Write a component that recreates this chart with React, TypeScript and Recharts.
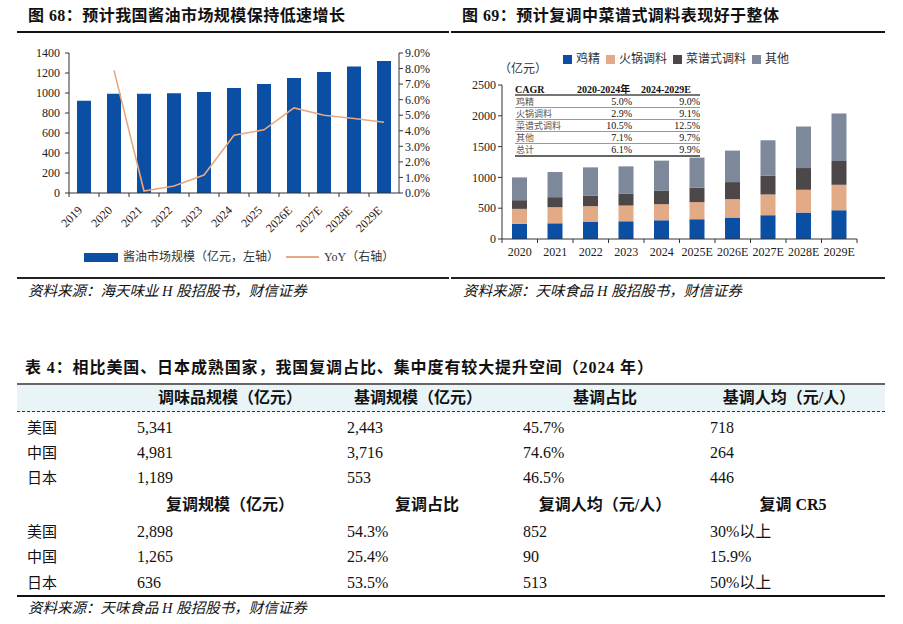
import React from "react";
import { ComposedChart, BarChart, Bar, Line, XAxis, YAxis } from "recharts";

const SERIF = "'Liberation Serif', 'Noto Sans CJK SC', serif";

// 图 68：酱油市场规模（亿元）与同比
const soyYears = ["2019", "2020", "2021", "2022", "2023", "2024", "2025", "2026E", "2027E", "2028E", "2029E"];
const soySize = [922, 992, 993, 998, 1011, 1049, 1091, 1149, 1209, 1266, 1319];
const soyYoy = [null, 7.88, 0.13, 0.45, 1.16, 3.71, 4.06, 5.47, 5.0, 4.79, 4.55];
const soyLeftTicks = [0, 200, 400, 600, 800, 1000, 1200, 1400];
const soyRightTicks = [0, 1, 2, 3, 4, 5, 6, 7, 8, 9];

// 图 69：复调细分品类规模（亿元）
const sauceYears = ["2020", "2021", "2022", "2023", "2024", "2025E", "2026E", "2027E", "2028E", "2029E"];
const chickenEssence = [245, 255, 283, 288, 304, 321, 348, 386, 429, 467];
const hotpotBase = [244, 261, 250, 255, 261, 277, 299, 337, 370, 413];
const recipeSeasoning = [141, 163, 168, 196, 223, 234, 277, 304, 353, 386];
const otherSeasoning = [370, 408, 462, 440, 484, 489, 511, 576, 674, 772];
const sauceTicks = [0, 500, 1000, 1500, 2000, 2500];

const cagrLabels = ["鸡精", "火锅调料", "菜谱式调料", "其他", "总计"];
const cagr2020to2024 = ["5.0%", "2.9%", "10.5%", "7.1%", "6.1%"];
const cagr2024to2029 = ["9.0%", "9.1%", "12.5%", "9.7%", "9.9%"];

// 表 4
const countries = ["美国", "中国", "日本"];
const baseHeaders = ["调味品规模（亿元）", "基调规模（亿元）", "基调占比", "基调人均（元/人）"];
const baseValues = [
  ["5,341", "2,443", "45.7%", "718"],
  ["4,981", "3,716", "74.6%", "264"],
  ["1,189", "553", "46.5%", "446"],
];
const compoundHeaders = ["复调规模（亿元）", "复调占比", "复调人均（元/人）", "复调 CR5"];
const compoundValues = [
  ["2,898", "54.3%", "852", "30%以上"],
  ["1,265", "25.4%", "90", "15.9%"],
  ["636", "53.5%", "513", "50%以上"],
];

const soyData = soyYears.map((year, i) => ({ year, size: soySize[i], yoy: soyYoy[i] }));
const sauceData = sauceYears.map((year, i) => ({
  year,
  chicken: chickenEssence[i],
  hotpot: hotpotBase[i],
  recipe: recipeSeasoning[i],
  other: otherSeasoning[i],
}));

const BLUE = "#0b4fa4";
const PEACH = "#e3aa86";
const DARK = "#4c4748";
const SLATE = "#7d899b";
const AXIS = "#333";

// 斜排年份标签，刻度线画在类目分界处
function RotatedTick(props: any) {
  const { x, y, payload } = props;
  const half = payload?.offset ?? 15;
  return (
    <g>
      <line x1={x - half} x2={x - half} y1={y} y2={y + 4} stroke={AXIS} />
      <text
        x={x - 3}
        y={y + 16}
        transform={`rotate(-45 ${x - 3} ${y + 16})`}
        textAnchor="end"
        dominantBaseline="middle"
        fontSize={12}
        fontFamily={SERIF}
        fill="#222"
      >
        {payload.value}
      </text>
    </g>
  );
}

function FlatTick(props: any) {
  const { x, y, payload, index } = props;
  const half = payload?.offset ?? 17.75;
  return (
    <g>
      <line x1={x - half} x2={x - half} y1={y} y2={y + 4} stroke={AXIS} />
      {index === sauceYears.length - 1 && (
        <line x1={x + half} x2={x + half} y1={y} y2={y + 4} stroke={AXIS} />
      )}
      <text x={x} y={y + 14} textAnchor="middle" dominantBaseline="middle" fontSize={12} fontFamily={SERIF} fill="#222">
        {payload.value}
      </text>
    </g>
  );
}

const abs = (left: number, top: number, extra: React.CSSProperties = {}): React.CSSProperties => ({
  position: "absolute",
  left,
  top,
  whiteSpace: "nowrap",
  lineHeight: 1,
  transform: "translateY(-50%)",
  ...extra,
});

const hline = (left: number, right: number, top: number, h: number, color: string): React.CSSProperties => ({
  position: "absolute",
  left,
  top: top - h / 2,
  width: right - left,
  height: h,
  background: color,
});

function Swatch({ color }: { color: string }) {
  return <span style={{ display: "inline-block", width: 9, height: 9, background: color, marginRight: 4 }} />;
}

const baseCols = [137, 347, 523, 710];
const baseHeaderCenters = [230, 418, 605, 789];
const compoundHeaderCenters = [230, 427, 605, 793];
const baseRowY = [428, 452.5, 478];
const compoundRowY = [532, 557, 583];

export default function App() {
  const tick = { fontSize: 12, fill: "#222", fontFamily: SERIF };
  return (
    <div style={{ position: "absolute", left: 0, top: 0, width: 903, height: 624, background: "#fff", fontFamily: SERIF, color: "#111" }}>
      {/* 图 68 */}
      <div style={abs(28, 16, { fontSize: 16, fontWeight: 700, letterSpacing: 0.45 })}>图 68：预计我国酱油市场规模保持低速增长</div>
      <div style={hline(17, 449, 31.5, 2, "#111")} />
      <div style={{ position: "absolute", left: 0, top: 0 }}>
        <ComposedChart width={450} height={280} data={soyData} margin={{ top: 53, right: 1, bottom: 47, left: 19 }} barSize={14}>
          <XAxis dataKey="year" height={40} interval={0} tickSize={0} tickMargin={0} tickLine={false} axisLine={{ stroke: AXIS }} tick={<RotatedTick />} />
          <YAxis yAxisId="left" width={50} domain={[0, 1400]} ticks={soyLeftTicks} interval={0} tickSize={4} tickMargin={5} tick={tick} axisLine={{ stroke: AXIS }} tickLine={{ stroke: AXIS }} />
          <YAxis
            yAxisId="right"
            orientation="right"
            width={50}
            domain={[0, 9]}
            ticks={soyRightTicks}
            interval={0}
            tickSize={4}
            tickMargin={2}
            tick={{ ...tick, textAnchor: "start" }}
            tickFormatter={(v: number) => `${v.toFixed(1)}%`}
            axisLine={{ stroke: AXIS }}
            tickLine={{ stroke: AXIS }}
          />
          <Bar yAxisId="left" dataKey="size" fill={BLUE} isAnimationActive={false} />
          <Line yAxisId="right" dataKey="yoy" stroke="#e7a882" strokeWidth={1.6} dot={false} type="linear" isAnimationActive={false} />
        </ComposedChart>
      </div>
      <div style={abs(84, 257, { display: "flex", alignItems: "center", fontSize: 12, color: "#333" })}>
        <span style={{ display: "inline-block", width: 34, height: 9, background: BLUE, marginRight: 5 }} />
        <span>酱油市场规模（亿元，左轴）</span>
        <span style={{ display: "inline-block", width: 33, height: 2, background: "#e7a882", margin: "0 5px 0 7px" }} />
        <span>YoY（右轴）</span>
      </div>
      <div style={hline(17, 449, 278, 1.5, "#222")} />
      <div style={abs(28, 291, { fontSize: 14.5, fontStyle: "italic" })}>资料来源：海天味业 H 股招股书，财信证券</div>

      {/* 图 69 */}
      <div style={abs(462, 16, { fontSize: 16, fontWeight: 700, letterSpacing: 0.45 })}>图 69：预计复调中菜谱式调料表现好于整体</div>
      <div style={hline(451, 885, 31.5, 2, "#111")} />
      <div style={{ position: "absolute", left: 450, top: 0 }}>
        <BarChart width={453} height={280} data={sauceData} margin={{ top: 85, right: 46, bottom: 11, left: 12 }} barSize={15}>
          <XAxis dataKey="year" height={30} interval={0} tickSize={0} tickMargin={0} tickLine={false} axisLine={{ stroke: AXIS }} tick={<FlatTick />} />
          <YAxis width={40} domain={[0, 2500]} ticks={sauceTicks} interval={0} tickSize={4} tickMargin={2} tick={tick} axisLine={{ stroke: AXIS }} tickLine={{ stroke: AXIS }} />
          <Bar dataKey="chicken" stackId="s" fill={BLUE} isAnimationActive={false} />
          <Bar dataKey="hotpot" stackId="s" fill={PEACH} isAnimationActive={false} />
          <Bar dataKey="recipe" stackId="s" fill={DARK} isAnimationActive={false} />
          <Bar dataKey="other" stackId="s" fill={SLATE} isAnimationActive={false} />
        </BarChart>
      </div>
      <div style={abs(563, 59, { display: "flex", alignItems: "center", fontSize: 12, color: "#333" })}>
        <Swatch color={BLUE} />
        <span style={{ marginRight: 6 }}>鸡精</span>
        <Swatch color={PEACH} />
        <span style={{ marginRight: 6 }}>火锅调料</span>
        <Swatch color={DARK} />
        <span style={{ marginRight: 6 }}>菜谱式调料</span>
        <Swatch color={SLATE} />
        <span>其他</span>
      </div>
      <div style={abs(499, 69, { fontSize: 12, color: "#333" })}>（亿元）</div>

      {/* CAGR 小表 */}
      <div style={abs(515, 90, { fontSize: 10, fontWeight: 700 })}>CAGR</div>
      <div style={abs(577, 90, { fontSize: 10, fontWeight: 700 })}>2020-2024年</div>
      <div style={abs(641, 90, { fontSize: 10, fontWeight: 700 })}>2024-2029E</div>
      <div style={hline(515, 700, 95, 1.5, "#777")} />
      {cagrLabels.map((label, i) => {
        const y = 102 + i * 12;
        return (
          <React.Fragment key={label}>
            <div style={abs(516, y, { fontSize: 9, color: "#555" })}>{label}</div>
            <div style={abs(560, y, { fontSize: 10, width: 72, textAlign: "right" })}>{cagr2020to2024[i]}</div>
            <div style={abs(628, y, { fontSize: 10, width: 72, textAlign: "right" })}>{cagr2024to2029[i]}</div>
            <div style={hline(515, 700, y + 5.5, i === cagrLabels.length - 1 ? 2 : 1, i === cagrLabels.length - 1 ? "#666" : "#999")} />
          </React.Fragment>
        );
      })}

      <div style={hline(451, 885, 278, 1.5, "#222")} />
      <div style={abs(463, 291, { fontSize: 14.5, fontStyle: "italic" })}>资料来源：天味食品 H 股招股书，财信证券</div>

      {/* 表 4 */}
      <div style={abs(25, 368, { fontSize: 16, fontWeight: 700, letterSpacing: 0.9 })}>表 4：相比美国、日本成熟国家，我国复调占比、集中度有较大提升空间（2024 年）</div>
      <div style={{ position: "absolute", left: 17, top: 385, width: 868, height: 27, background: "#e8f4f6" }} />
      <div style={hline(17, 885, 384, 2, "#666")} />
      <div style={{ position: "absolute", left: 17, top: 411, width: 868, height: 0, borderTop: "1.5px dashed #333" }} />
      {baseHeaders.map((h, i) => (
        <div key={h} style={abs(baseHeaderCenters[i], 398, { fontSize: 16, fontWeight: 700, transform: "translate(-50%, -50%)" })}>{h}</div>
      ))}
      {countries.map((c, r) => (
        <React.Fragment key={"b" + c}>
          <div style={abs(27, baseRowY[r], { fontSize: 15 })}>{c}</div>
          {baseValues[r].map((v, j) => (
            <div key={j} style={abs(baseCols[j], baseRowY[r], { fontSize: 16 })}>{v}</div>
          ))}
        </React.Fragment>
      ))}
      {compoundHeaders.map((h, i) => (
        <div key={h} style={abs(compoundHeaderCenters[i], 505, { fontSize: 16, fontWeight: 700, transform: "translate(-50%, -50%)" })}>{h}</div>
      ))}
      {countries.map((c, r) => (
        <React.Fragment key={"c" + c}>
          <div style={abs(27, compoundRowY[r], { fontSize: 15 })}>{c}</div>
          {compoundValues[r].map((v, j) => (
            <div key={j} style={abs(baseCols[j], compoundRowY[r], { fontSize: 16 })}>{v}</div>
          ))}
        </React.Fragment>
      ))}
      <div style={hline(17, 885, 596, 2, "#111")} />
      <div style={abs(28, 608, { fontSize: 14.5, fontStyle: "italic" })}>资料来源：天味食品 H 股招股书，财信证券</div>
    </div>
  );
}
